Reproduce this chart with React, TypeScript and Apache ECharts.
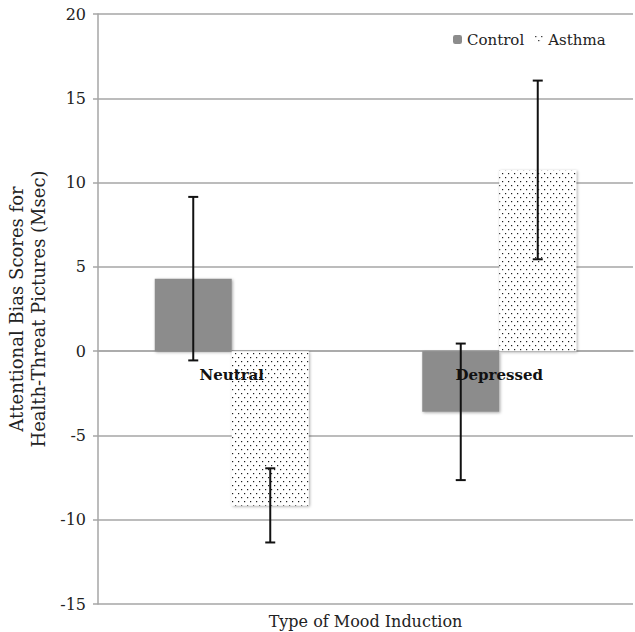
import React, { useEffect, useRef } from "react";
import * as echarts from "echarts";

const categories = ["Neutral", "Depressed"];
const seriesNames = ["Control", "Asthma"];
const controlValues = [4.3, -3.6];
const asthmaValues = [-9.15, 10.75];
const controlErrors = [4.85, 4.05];
const asthmaErrors = [2.2, 5.3];
const yTicks = { min: -15, max: 20, interval: 5 };

const FONT = "DejaVu Serif";
const BAR_W = 77;

function makePattern() {
  const c = document.createElement("canvas");
  c.width = 6;
  c.height = 8;
  const ctx = c.getContext("2d")!;
  ctx.fillStyle = "#ffffff";
  ctx.fillRect(0, 0, 6, 8);
  ctx.fillStyle = "#1a1a1a";
  ctx.fillRect(1, 1, 1.2, 1.2);
  ctx.fillRect(4, 5, 1.2, 1.2);
  return c;
}

function errorSeries(values: number[], errors: number[], side: number) {
  return {
    type: "custom",
    silent: true,
    z: 10,
    data: values.map((v, i) => [i, v - errors[i], v + errors[i]]),
    encode: { x: 0, y: [1, 2] },
    renderItem: (params: any, api: any) => {
      const i = api.value(0);
      const lo = api.coord([i, api.value(1)]);
      const hi = api.coord([i, api.value(2)]);
      const x = lo[0] + side * (BAR_W / 2);
      const cap = 5;
      const st = { stroke: "#111", lineWidth: 2 };
      return {
        type: "group",
        children: [
          { type: "line", shape: { x1: x, y1: lo[1], x2: x, y2: hi[1] }, style: st },
          { type: "line", shape: { x1: x - cap, y1: lo[1], x2: x + cap, y2: lo[1] }, style: st },
          { type: "line", shape: { x1: x - cap, y1: hi[1], x2: x + cap, y2: hi[1] }, style: st },
        ],
      };
    },
  };
}

export default function App() {
  const ref = useRef<HTMLDivElement>(null);
  useEffect(() => {
    document.body.style.margin = "0";
    const chart = echarts.init(ref.current!, null, { renderer: "svg" });
    const pattern = makePattern();
    const shadow = {
      shadowBlur: 3,
      shadowColor: "rgba(0,0,0,0.35)",
      shadowOffsetX: 1,
      shadowOffsetY: 1,
    };
    chart.setOption({
      animation: false,
      backgroundColor: "#ffffff",
      textStyle: { fontFamily: FONT },
      grid: { left: 98, right: 2, top: 14, bottom: 28, outerBoundsMode: "none", containLabel: false },
      legend: {
        data: seriesNames,
        left: 448,
        top: 27,
        itemWidth: 9,
        itemHeight: 9,
        itemGap: 10,
        textStyle: { fontFamily: FONT, fontSize: 15, color: "#222" },
        selectedMode: false,
      },
      xAxis: {
        type: "category",
        data: categories,
        name: "Type of Mood Induction",
        nameLocation: "middle",
        nameGap: 9,
        nameTextStyle: { fontFamily: FONT, fontSize: 16, color: "#222" },
        axisLine: { lineStyle: { color: "#a6a6a6", width: 1.5 } },
        axisTick: { show: false },
        axisLabel: { show: false },
      },
      yAxis: {
        type: "value",
        min: yTicks.min,
        max: yTicks.max,
        interval: yTicks.interval,
        name: "Attentional Bias Scores for\nHealth-Threat Pictures (Msec)",
        nameLocation: "middle",
        nameGap: 43,
        nameTextStyle: { fontFamily: FONT, fontSize: 18, color: "#222", lineHeight: 22 },
        axisLine: { show: true, lineStyle: { color: "#a6a6a6", width: 1.5 } },
        axisTick: { show: true, length: 5, lineStyle: { color: "#a6a6a6", width: 1.5 } },
        axisLabel: { fontFamily: FONT, fontSize: 16, color: "#222", margin: 12 },
        splitLine: { lineStyle: { color: "#a6a6a6", width: 1.5 } },
      },
      series: [
        {
          name: "Control",
          type: "bar",
          data: controlValues,
          barWidth: BAR_W,
          barGap: "0%",
          itemStyle: { color: "#8c8c8c", ...shadow },
        },
        {
          name: "Asthma",
          type: "bar",
          data: asthmaValues,
          barWidth: BAR_W,
          barGap: "0%",
          itemStyle: { color: { image: pattern, repeat: "repeat" }, ...shadow },
        },
        errorSeries(controlValues, controlErrors, -1),
        errorSeries(asthmaValues, asthmaErrors, 1),
        {
          type: "custom",
          silent: true,
          z: 20,
          data: categories.map((c, i) => [i, 0]),
          encode: { x: 0, y: 1 },
          renderItem: (params: any, api: any) => {
            const i = api.value(0);
            const p = api.coord([i, 0]);
            return {
              type: "text",
              x: p[0],
              y: p[1] + 24,
              style: {
                text: categories[i],
                fontFamily: FONT,
                fontWeight: "bold",
                fontSize: 15,
                fill: "#111",
                align: "center",
                verticalAlign: "middle",
              },
            };
          },
        },
      ],
    });
    return () => chart.dispose();
  }, []);
  return <div ref={ref} style={{ width: 635, height: 632 }} />;
}
